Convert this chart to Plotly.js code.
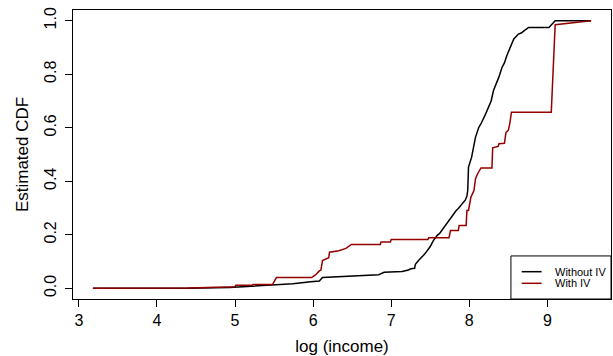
<!DOCTYPE html>
<html>
<head>
<meta charset="utf-8">
<script src="https://cdn.plot.ly/plotly-3.0.1.min.js"></script>
<style>html,body{margin:0;padding:0;background:#fff;}#chart{width:613px;height:356px;}</style>
</head>
<body>
<div id="chart"></div>
<script>
// Estimated CDF without IV (black)
const withoutIV_x = [3.18, 4.40, 4.93, 5.48, 5.74, 5.97, 6.08, 6.12, 6.84, 6.91, 7.14, 7.22, 7.25, 7.30, 7.31, 7.35, 7.40, 7.42, 7.48, 7.50, 7.54, 7.59, 7.62, 7.67, 7.70, 7.74, 7.77, 7.83, 7.86, 7.90, 7.95, 7.97, 7.98, 7.99, 8.03, 8.05, 8.08, 8.12, 8.15, 8.21, 8.24, 8.28, 8.31, 8.34, 8.38, 8.42, 8.45, 8.48, 8.52, 8.57, 8.63, 8.67, 8.70, 8.76, 9.02, 9.10, 9.56];
const withoutIV_y = [0.000, 0.000, 0.003, 0.011, 0.017, 0.024, 0.027, 0.040, 0.051, 0.060, 0.063, 0.068, 0.073, 0.075, 0.090, 0.104, 0.118, 0.125, 0.148, 0.156, 0.178, 0.198, 0.205, 0.225, 0.236, 0.255, 0.268, 0.290, 0.298, 0.313, 0.330, 0.345, 0.365, 0.453, 0.490, 0.520, 0.565, 0.600, 0.615, 0.652, 0.672, 0.700, 0.739, 0.760, 0.790, 0.826, 0.842, 0.869, 0.895, 0.932, 0.950, 0.955, 0.962, 0.975, 0.975, 1.000, 1.000];
// Estimated CDF with IV (dark red)
const withIV_x = [3.18, 4.40, 5.00, 5.01, 5.22, 5.23, 5.48, 5.53, 5.98, 6.03, 6.08, 6.10, 6.12, 6.18, 6.20, 6.21, 6.33, 6.42, 6.49, 6.86, 6.87, 6.99, 7.00, 7.47, 7.48, 7.74, 7.76, 7.86, 7.87, 7.96, 7.97, 7.99, 8.02, 8.06, 8.08, 8.11, 8.15, 8.29, 8.30, 8.37, 8.38, 8.45, 8.47, 8.50, 8.52, 8.54, 9.05, 9.10, 9.56];
const withIV_y = [0.000, 0.001, 0.006, 0.011, 0.011, 0.014, 0.014, 0.040, 0.040, 0.050, 0.065, 0.068, 0.104, 0.111, 0.114, 0.135, 0.140, 0.149, 0.164, 0.164, 0.173, 0.173, 0.182, 0.182, 0.189, 0.189, 0.216, 0.216, 0.235, 0.235, 0.291, 0.291, 0.340, 0.365, 0.410, 0.430, 0.450, 0.450, 0.525, 0.530, 0.540, 0.542, 0.583, 0.590, 0.617, 0.658, 0.658, 0.985, 1.000];
const xTicks = [3, 4, 5, 6, 7, 8, 9];
const yTicks = [0.0, 0.2, 0.4, 0.6, 0.8, 1.0];
const yTickText = ['0.0', '0.2', '0.4', '0.6', '0.8', '1.0'];
const seriesNames = ['Without IV', 'With IV'];
const seriesColors = ['#000000', '#930000'];

const FONT = 'Liberation Sans, Arial, Helvetica, sans-serif';
const traces = [
  {x: withoutIV_x, y: withoutIV_y, type: 'scatter', mode: 'lines', name: seriesNames[0],
   line: {color: seriesColors[0], width: 1.5}},
  {x: withIV_x, y: withIV_y, type: 'scatter', mode: 'lines', name: seriesNames[1],
   line: {color: seriesColors[1], width: 1.5}}
];

// R-style legend box in the bottom-right corner (paper coordinates)
const legBox = {x0: 0.814, x1: 1.0, y0: 0.0, y1: 0.149};
const legRows = [0.0945, 0.0543];
const shapes = [
  {type: 'rect', xref: 'paper', yref: 'paper', x0: legBox.x0, x1: legBox.x1, y0: legBox.y0, y1: legBox.y1,
   line: {color: '#000', width: 1}, fillcolor: '#fff', layer: 'above'}
];
const annotations = [];
seriesNames.forEach((n, i) => {
  shapes.push({type: 'line', xref: 'paper', yref: 'paper', x0: 0.834, x1: 0.871, y0: legRows[i], y1: legRows[i],
               line: {color: seriesColors[i], width: 1.5}, layer: 'above'});
  annotations.push({xref: 'paper', yref: 'paper', x: 0.892, y: legRows[i], xanchor: 'left', yanchor: 'middle',
                    text: n, showarrow: false, font: {family: FONT, size: 11, color: '#000'}});
});

const layout = {
  width: 613, height: 356,
  margin: {l: 73, r: 2, t: 10, b: 57},
  paper_bgcolor: '#fff', plot_bgcolor: '#fff',
  font: {family: FONT, color: '#000', size: 16},
  showlegend: false,
  shapes: shapes,
  annotations: annotations,
  xaxis: {range: [2.925, 9.815], tickvals: xTicks, ticks: 'outside', ticklen: 7, tickwidth: 1,
          tickcolor: '#000', showgrid: false, zeroline: false, showline: true, mirror: true,
          linecolor: '#000', linewidth: 1, tickfont: {size: 16},
          title: {text: 'log (income)', font: {size: 17}, standoff: 12}},
  yaxis: {range: [-0.04, 1.04], tickvals: yTicks, ticktext: yTickText, ticks: 'outside', ticklen: 7,
          tickwidth: 1, tickcolor: '#000', tickangle: -90, ticklabelstandoff: 3, showgrid: false, zeroline: false,
          showline: true, mirror: true, linecolor: '#000', linewidth: 1, tickfont: {size: 16},
          title: {text: 'Estimated CDF', font: {size: 17}, standoff: 8}}
};
Plotly.newPlot('chart', traces, layout, {displayModeBar: false, staticPlot: true});
</script>
</body>
</html>
